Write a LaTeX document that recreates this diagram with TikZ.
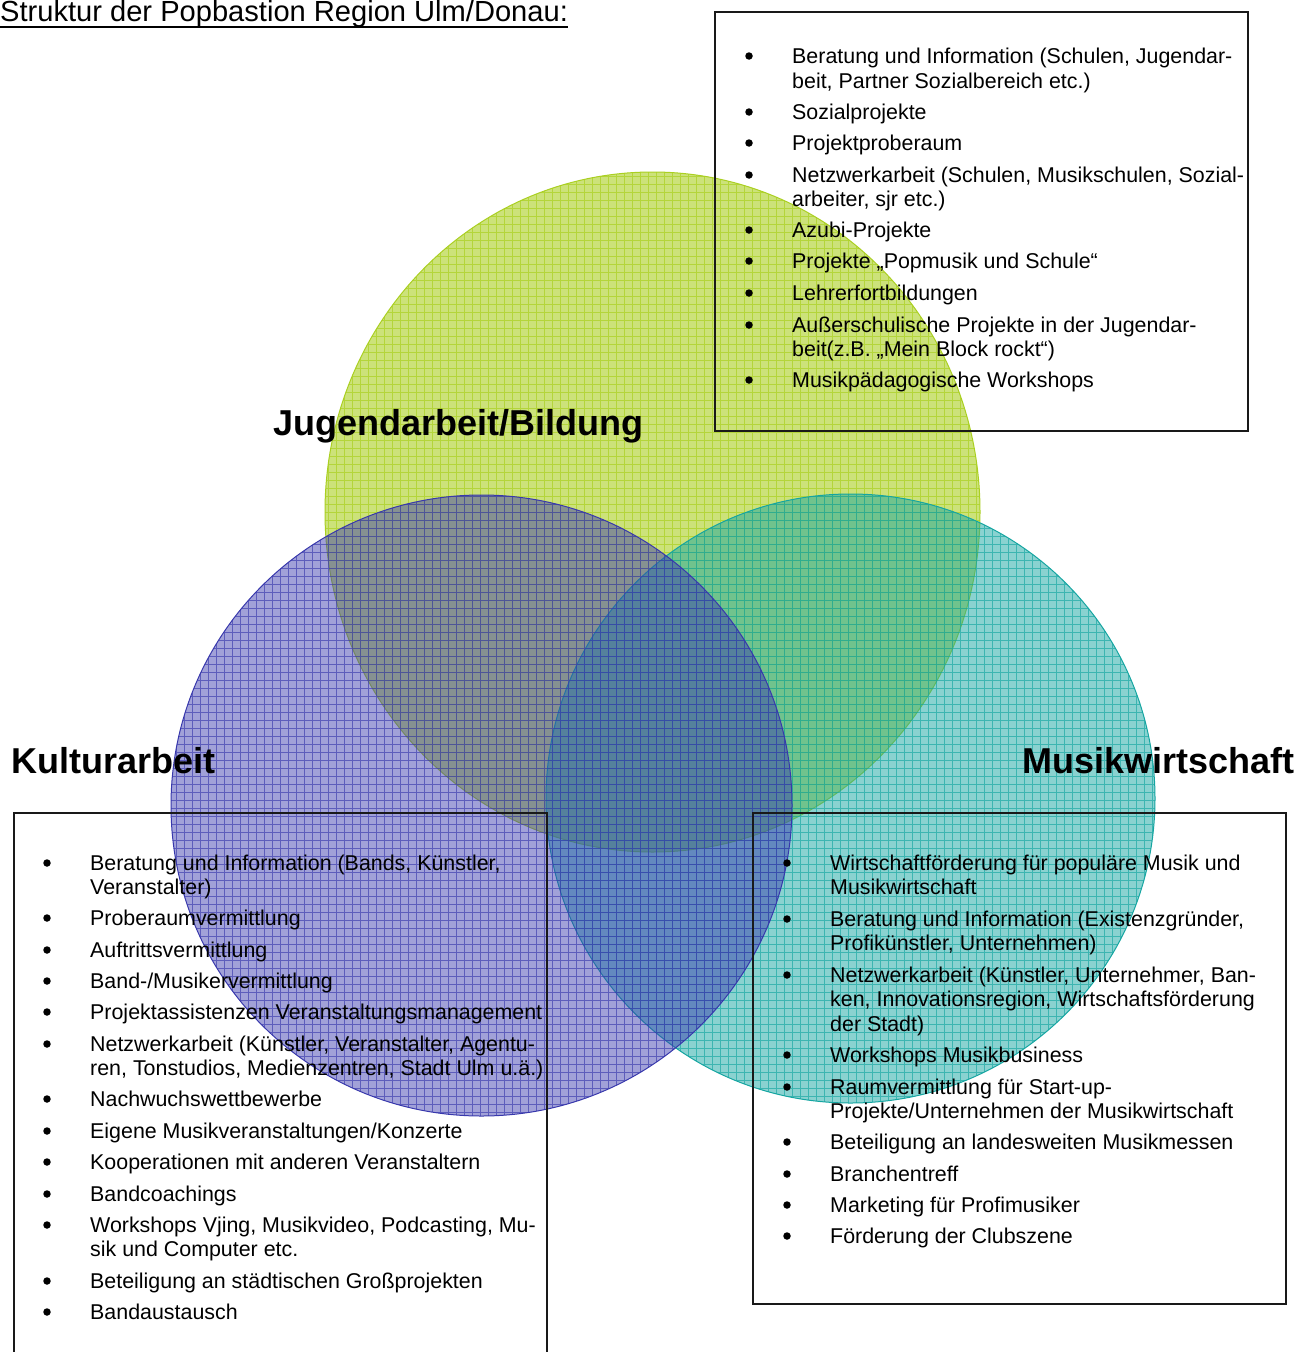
\documentclass[tikz,border=0pt]{standalone}
\usepackage{fontspec}
\setmainfont{Liberation Sans}
\begin{document}
\begin{tikzpicture}[x=1pt,y=-1pt,
  itemtxt/.style={anchor=base west,inner sep=0pt,font=\fontsize{21.4}{24.5}\selectfont},
  dot/.style={circle,fill=black,inner sep=0pt,minimum size=7.5pt,yshift=7pt},
  heading/.style={anchor=base west,inner sep=0pt,font=\fontsize{36}{40}\selectfont\bfseries},
  frame/.style={draw=black!90,line width=1.8pt},
  gridlines/.style={step=8pt,line width=0.7pt}]
\definecolor{jgreen}{HTML}{AACF21}
\definecolor{kpurple}{HTML}{3838AC}
\definecolor{mteal}{HTML}{15A5A1}
\useasboundingbox (0,0) rectangle (1298,1352);
\clip (0,0) rectangle (1298,1352);

% Jugendarbeit/Bildung
\begin{scope}
  \clip (652.5,512) ellipse [x radius=327.5, y radius=340];
  \fill[jgreen,fill opacity=0.6] (652.5,512) ellipse [x radius=327.5, y radius=340];
  \draw[gridlines,jgreen,opacity=0.7] (320,860) grid (990,165);
\end{scope}
\draw[jgreen,line width=1pt] (652.5,512) ellipse [x radius=327.5, y radius=340];

% Musikwirtschaft
\begin{scope}
  \clip (850.5,798.5) circle [radius=304.5];
  \fill[mteal,fill opacity=0.5] (850.5,798.5) circle [radius=304.5];
  \draw[gridlines,mteal,opacity=0.65] (540,1110) grid (1160,490);
\end{scope}
\draw[mteal,line width=1pt] (850.5,798.5) circle [radius=304.5];

% Kulturarbeit
\begin{scope}
  \clip (481.5,805.5) circle [radius=310.5];
  \fill[kpurple,fill opacity=0.47] (481.5,805.5) circle [radius=310.5];
  \draw[gridlines,kpurple,opacity=0.65] (165,1120) grid (800,490);
\end{scope}
\draw[kpurple,line width=1pt] (481.5,805.5) circle [radius=310.5];

% frames
\draw[frame] (715,12) rectangle (1248,431);
\draw[frame] (14,1370) -- (14,813) -- (547,813) -- (547,1370);
\draw[frame] (753,813) rectangle (1286,1304);

% title
\node[anchor=base west,inner sep=0pt,font=\fontsize{29.1}{32}\selectfont] (title) at (0,21) {Struktur der Popbastion Region Ulm/Donau:};
\draw[line width=2pt] ([yshift=-6pt]title.base west) -- ([yshift=-6pt]title.base east);

% headings
\node[heading] (hj) at (273,435) {Jugendarbeit/Bildung};
\node[heading] (hk) at (11,773) {Kulturarbeit};
\node[heading] (hm) at (1022,773) {Musikwirtschaft};

% Jugendarbeit/Bildung list
\node[dot] (jb1) at (749,63) {};
\node[itemtxt] (j1) at (792,63) {Beratung und Information (Schulen, Jugendar-};
\node[itemtxt] (j2) at (792,88) {beit, Partner Sozialbereich etc.)};
\node[dot] (jb3) at (749,119) {};
\node[itemtxt] (j3) at (792,119) {Sozialprojekte};
\node[dot] (jb4) at (749,150) {};
\node[itemtxt] (j4) at (792,150) {Projektproberaum};
\node[dot] (jb5) at (749,182) {};
\node[itemtxt] (j5) at (792,182) {Netzwerkarbeit (Schulen, Musikschulen, Sozial-};
\node[itemtxt] (j6) at (792,206) {arbeiter, sjr etc.)};
\node[dot] (jb7) at (749,237) {};
\node[itemtxt] (j7) at (792,237) {Azubi-Projekte};
\node[dot] (jb8) at (749,268) {};
\node[itemtxt] (j8) at (792,268) {Projekte „Popmusik und Schule“};
\node[dot] (jb9) at (749,300) {};
\node[itemtxt] (j9) at (792,300) {Lehrerfortbildungen};
\node[dot] (jb10) at (749,332) {};
\node[itemtxt] (j10) at (792,332) {Außerschulische Projekte in der Jugendar-};
\node[itemtxt] (j11) at (792,356) {beit(z.B. „Mein Block rockt“)};
\node[dot] (jb12) at (749,387) {};
\node[itemtxt] (j12) at (792,387) {Musikpädagogische Workshops};

% Kulturarbeit list
\node[dot] (kb1) at (47,870) {};
\node[itemtxt] (k1) at (90,870) {Beratung und Information (Bands, Künstler,};
\node[itemtxt] (k2) at (90,894) {Veranstalter)};
\node[dot] (kb3) at (47,925) {};
\node[itemtxt] (k3) at (90,925) {Proberaumvermittlung};
\node[dot] (kb4) at (47,957) {};
\node[itemtxt] (k4) at (90,957) {Auftrittsvermittlung};
\node[dot] (kb5) at (47,988) {};
\node[itemtxt] (k5) at (90,988) {Band-/Musikervermittlung};
\node[dot] (kb6) at (47,1019) {};
\node[itemtxt] (k6) at (90,1019) {Projektassistenzen Veranstaltungsmanagement};
\node[dot] (kb7) at (47,1051) {};
\node[itemtxt] (k7) at (90,1051) {Netzwerkarbeit (Künstler, Veranstalter, Agentu-};
\node[itemtxt] (k8) at (90,1075) {ren, Tonstudios, Medienzentren, Stadt Ulm u.ä.)};
\node[dot] (kb9) at (47,1106) {};
\node[itemtxt] (k9) at (90,1106) {Nachwuchswettbewerbe};
\node[dot] (kb10) at (47,1138) {};
\node[itemtxt] (k10) at (90,1138) {Eigene Musikveranstaltungen/Konzerte};
\node[dot] (kb11) at (47,1169) {};
\node[itemtxt] (k11) at (90,1169) {Kooperationen mit anderen Veranstaltern};
\node[dot] (kb12) at (47,1201) {};
\node[itemtxt] (k12) at (90,1201) {Bandcoachings};
\node[dot] (kb13) at (47,1232) {};
\node[itemtxt] (k13) at (90,1232) {Workshops Vjing, Musikvideo, Podcasting, Mu-};
\node[itemtxt] (k14) at (90,1256) {sik und Computer etc.};
\node[dot] (kb15) at (47,1288) {};
\node[itemtxt] (k15) at (90,1288) {Beteiligung an städtischen Großprojekten};
\node[dot] (kb16) at (47,1319) {};
\node[itemtxt] (k16) at (90,1319) {Bandaustausch};

% Musikwirtschaft list
\node[dot] (mb1) at (787,870) {};
\node[itemtxt] (m1) at (830,870) {Wirtschaftförderung für populäre Musik und};
\node[itemtxt] (m2) at (830,894) {Musikwirtschaft};
\node[dot] (mb3) at (787,926) {};
\node[itemtxt] (m3) at (830,926) {Beratung und Information (Existenzgründer,};
\node[itemtxt] (m4) at (830,950) {Profikünstler, Unternehmen)};
\node[dot] (mb5) at (787,982) {};
\node[itemtxt] (m5) at (830,982) {Netzwerkarbeit (Künstler, Unternehmer, Ban-};
\node[itemtxt] (m6) at (830,1006) {ken, Innovationsregion, Wirtschaftsförderung};
\node[itemtxt] (m7) at (830,1031) {der Stadt)};
\node[dot] (mb8) at (787,1062) {};
\node[itemtxt] (m8) at (830,1062) {Workshops Musikbusiness};
\node[dot] (mb9) at (787,1094) {};
\node[itemtxt] (m9) at (830,1094) {Raumvermittlung für Start-up-};
\node[itemtxt] (m10) at (830,1118) {Projekte/Unternehmen der Musikwirtschaft};
\node[dot] (mb11) at (787,1149) {};
\node[itemtxt] (m11) at (830,1149) {Beteiligung an landesweiten Musikmessen};
\node[dot] (mb12) at (787,1181) {};
\node[itemtxt] (m12) at (830,1181) {Branchentreff};
\node[dot] (mb13) at (787,1212) {};
\node[itemtxt] (m13) at (830,1212) {Marketing für Profimusiker};
\node[dot] (mb14) at (787,1243) {};
\node[itemtxt] (m14) at (830,1243) {Förderung der Clubszene};
\end{tikzpicture}
\end{document}
